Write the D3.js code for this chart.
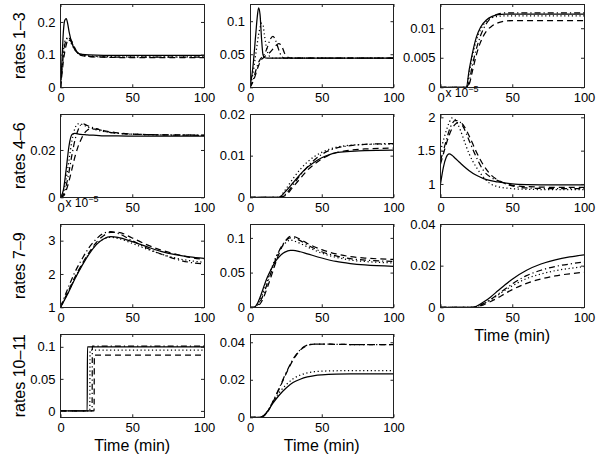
<!DOCTYPE html>
<html><head><meta charset="utf-8">
<script src="https://cdn.jsdelivr.net/npm/d3@7"></script>
<style>
body{margin:0;background:#fff}
svg{display:block}
text{font-family:"Liberation Sans",Arial,Helvetica,sans-serif;fill:#000}
</style>
</head><body>
<svg id="chart" width="600" height="457"></svg>
<script>
// ---------------- DATA ----------------
const xTicks = [0, 50, 100];
const xTickLabels = ["0", "50", "100"];
const rowLabels = ["rates 1–3", "rates 4–6", "rates 7–9", "rates 10–11"];
const xLabel = "Time (min)";

// Panel 1 (rates 1-3, first)
const p1Time    = [0, 1, 2, 3, 4, 5, 6, 8, 10, 12, 15, 20, 30, 50, 75, 100];
const p1Solid   = [0, 0.08, 0.17, 0.205, 0.21, 0.195, 0.17, 0.135, 0.115, 0.105, 0.101, 0.099, 0.098, 0.098, 0.098, 0.098];
const p1Dashed  = [0, 0.04, 0.08, 0.11, 0.13, 0.145, 0.15, 0.14, 0.12, 0.105, 0.097, 0.094, 0.092, 0.091, 0.091, 0.091];
const p1Dotted  = [0, 0.06, 0.11, 0.14, 0.15, 0.15, 0.145, 0.13, 0.115, 0.105, 0.099, 0.096, 0.094, 0.093, 0.093, 0.093];
const p1DashDot = [0, 0.05, 0.1, 0.13, 0.145, 0.15, 0.148, 0.135, 0.118, 0.106, 0.098, 0.095, 0.093, 0.092, 0.092, 0.092];

// Panel 2
const p2Time    = [0, 2, 4, 5, 6, 7, 8, 9, 10, 12, 14, 16, 18, 20, 22, 24, 27, 30, 50, 100];
const p2Solid   = [0, 0.03, 0.08, 0.105, 0.12, 0.11, 0.075, 0.05, 0.045, 0.044, 0.044, 0.044, 0.044, 0.044, 0.044, 0.044, 0.044, 0.044, 0.044, 0.044];
const p2Dashed  = [0, 0.008, 0.02, 0.027, 0.033, 0.038, 0.042, 0.044, 0.046, 0.049, 0.053, 0.058, 0.063, 0.066, 0.063, 0.052, 0.045, 0.044, 0.044, 0.044];
const p2Dotted  = [0, 0.02, 0.05, 0.065, 0.08, 0.09, 0.097, 0.095, 0.08, 0.055, 0.046, 0.044, 0.044, 0.044, 0.044, 0.044, 0.044, 0.044, 0.044, 0.044];
const p2DashDot = [0, 0.01, 0.025, 0.032, 0.038, 0.042, 0.045, 0.047, 0.05, 0.06, 0.072, 0.077, 0.07, 0.057, 0.047, 0.044, 0.044, 0.044, 0.044, 0.044];

// Panel 3
const p3Time    = [0, 18, 20, 22, 25, 28, 32, 36, 40, 45, 50, 100];
const p3Solid   = [0, 0, 0.003, 0.0055, 0.0085, 0.0102, 0.0114, 0.012, 0.0123, 0.0124, 0.0124, 0.0124];
const p3Dashed  = [0, 0, 0.0005, 0.0025, 0.0055, 0.0077, 0.0095, 0.0104, 0.0109, 0.0112, 0.0113, 0.0113];
const p3Dotted  = [0, 0, 0.0025, 0.005, 0.008, 0.0098, 0.0112, 0.0118, 0.012, 0.0121, 0.0121, 0.0121];
const p3DashDot = [0, 0, 0.001, 0.0035, 0.0065, 0.0088, 0.0108, 0.0119, 0.0124, 0.0126, 0.0126, 0.0126];

// Panel 4
const p4Time    = [0, 2, 4, 6, 8, 10, 12, 14, 16, 18, 20, 25, 30, 40, 60, 100];
const p4Solid   = [0, 0.003, 0.012, 0.022, 0.0265, 0.027, 0.0268, 0.0266, 0.0265, 0.0264, 0.0263, 0.0262, 0.026, 0.026, 0.0258, 0.0258];
const p4Dashed  = [0, 0.0005, 0.003, 0.007, 0.012, 0.017, 0.021, 0.024, 0.0265, 0.028, 0.0288, 0.0288, 0.0282, 0.0272, 0.0265, 0.0262];
const p4Dotted  = [0, 0.002, 0.008, 0.016, 0.024, 0.029, 0.031, 0.031, 0.0305, 0.03, 0.0295, 0.0285, 0.0278, 0.027, 0.0265, 0.0262];
const p4DashDot = [0, 0.001, 0.005, 0.011, 0.018, 0.024, 0.028, 0.0305, 0.031, 0.0305, 0.03, 0.029, 0.028, 0.027, 0.0265, 0.0263];

// Panel 5
const p5Time    = [0, 20, 25, 30, 35, 40, 45, 50, 55, 60, 70, 80, 100];
const p5Solid   = [0, 0, 0.0015, 0.0035, 0.0055, 0.0072, 0.0085, 0.0095, 0.0102, 0.0107, 0.011, 0.0112, 0.0113];
const p5Dashed  = [0, 0, 0.0005, 0.0025, 0.0045, 0.0065, 0.008, 0.0092, 0.0101, 0.0107, 0.0113, 0.0116, 0.0118];
const p5Dotted  = [0, 0, 0.002, 0.0045, 0.0067, 0.0085, 0.0098, 0.0108, 0.0115, 0.012, 0.0125, 0.0127, 0.0128];
const p5DashDot = [0, 0, 0.0008, 0.003, 0.0053, 0.0073, 0.009, 0.0103, 0.0112, 0.0118, 0.0124, 0.0127, 0.0129];

// Panel 6 (values in units of 1e-5)
const p6Time    = [0, 2, 4, 6, 8, 10, 12, 14, 16, 20, 25, 30, 35, 40, 50, 60, 80, 100];
const p6Solid   = [1.0, 1.25, 1.4, 1.45, 1.43, 1.39, 1.35, 1.31, 1.27, 1.2, 1.13, 1.08, 1.05, 1.03, 1.0, 0.99, 0.985, 0.985];
const p6Dashed  = [1.3, 1.45, 1.6, 1.73, 1.83, 1.89, 1.92, 1.92, 1.88, 1.72, 1.48, 1.28, 1.14, 1.06, 0.98, 0.96, 0.95, 0.95];
const p6Dotted  = [1.5, 1.65, 1.8, 1.92, 1.99, 1.97, 1.9, 1.8, 1.68, 1.45, 1.25, 1.1, 1.0, 0.96, 0.93, 0.92, 0.915, 0.915];
const p6DashDot = [1.35, 1.5, 1.65, 1.8, 1.9, 1.95, 1.95, 1.92, 1.85, 1.65, 1.4, 1.2, 1.1, 1.05, 0.97, 0.94, 0.93, 0.93];

// Panel 7 (values in units of 1e-5)
const p7Time    = [0, 5, 10, 15, 20, 25, 30, 35, 40, 50, 60, 70, 80, 90, 100];
const p7Solid   = [1, 1.4, 1.85, 2.25, 2.6, 2.88, 3.05, 3.12, 3.1, 2.97, 2.82, 2.68, 2.58, 2.51, 2.47];
const p7Dashed  = [1, 1.45, 1.9, 2.3, 2.65, 2.95, 3.15, 3.25, 3.25, 3.08, 2.88, 2.72, 2.6, 2.5, 2.44];
const p7Dotted  = [1, 1.42, 1.87, 2.27, 2.62, 2.9, 3.05, 3.1, 3.07, 2.92, 2.75, 2.6, 2.48, 2.4, 2.35];
const p7DashDot = [1, 1.55, 2.05, 2.45, 2.8, 3.05, 3.22, 3.27, 3.22, 3.0, 2.78, 2.6, 2.45, 2.35, 2.3];

// Panel 8
const p8Time    = [0, 3, 5, 8, 10, 12, 15, 18, 20, 23, 26, 28, 30, 35, 40, 50, 60, 70, 80, 100];
const p8Solid   = [0, 0, 0.005, 0.02, 0.032, 0.043, 0.056, 0.067, 0.072, 0.078, 0.081, 0.082, 0.082, 0.08, 0.077, 0.071, 0.066, 0.063, 0.061, 0.059];
const p8Dashed  = [0, 0, 0.001, 0.008, 0.017, 0.028, 0.046, 0.065, 0.076, 0.09, 0.099, 0.102, 0.102, 0.098, 0.092, 0.083, 0.077, 0.073, 0.071, 0.069];
const p8Dotted  = [0, 0, 0.003, 0.015, 0.026, 0.038, 0.056, 0.072, 0.08, 0.089, 0.095, 0.097, 0.096, 0.092, 0.087, 0.078, 0.072, 0.068, 0.066, 0.064];
const p8DashDot = [0, 0, 0.002, 0.012, 0.022, 0.034, 0.052, 0.07, 0.08, 0.091, 0.098, 0.1, 0.1, 0.096, 0.09, 0.08, 0.074, 0.07, 0.068, 0.066];

// Panel 9
const p9Time    = [0, 22, 25, 30, 35, 40, 45, 50, 60, 70, 80, 90, 100];
const p9Solid   = [0, 0, 0.0005, 0.0025, 0.005, 0.0079, 0.0108, 0.0135, 0.0178, 0.0208, 0.0228, 0.0242, 0.0252];
const p9Dashed  = [0, 0, 0.0002, 0.0012, 0.0028, 0.0046, 0.0066, 0.0085, 0.0115, 0.0136, 0.0151, 0.0161, 0.0168];
const p9Dotted  = [0, 0, 0.0003, 0.0018, 0.0036, 0.0058, 0.0082, 0.0103, 0.0138, 0.016, 0.0176, 0.0187, 0.0195];
const p9DashDot = [0, 0, 0.0003, 0.0018, 0.0038, 0.0062, 0.0088, 0.0112, 0.0152, 0.0178, 0.0196, 0.0208, 0.0217];

// Panel 10
const p10Time    = [0, 18.6, 18.8, 20.4, 20.6, 22.0, 22.2, 23.4, 23.6, 100];
const p10Solid   = [0, 0, 0.1, 0.1, 0.1, 0.1, 0.1, 0.1, 0.1, 0.1];
const p10Dashed  = [0, 0, 0, 0, 0, 0, 0, 0, 0.087, 0.087];
const p10Dotted  = [0, 0, 0, 0, 0.095, 0.095, 0.095, 0.095, 0.095, 0.095];
const p10DashDot = [0, 0, 0, 0, 0, 0, 0.101, 0.101, 0.101, 0.101];

// Panel 11
const p11Time    = [0, 7, 10, 13, 16, 20, 25, 30, 35, 40, 45, 50, 60, 70, 100];
const p11Solid   = [0, 0, 0.0012, 0.004, 0.0075, 0.0115, 0.0155, 0.0185, 0.0203, 0.0215, 0.0222, 0.0226, 0.023, 0.0231, 0.0231];
const p11Dashed  = [0, 0, 0.001, 0.0038, 0.0082, 0.0145, 0.023, 0.0305, 0.0358, 0.0383, 0.039, 0.039, 0.0389, 0.0388, 0.0388];
const p11Dotted  = [0, 0, 0.0012, 0.0042, 0.0082, 0.0128, 0.0172, 0.0205, 0.0225, 0.0237, 0.0243, 0.0246, 0.0248, 0.0249, 0.0249];
const p11DashDot = [0, 0, 0.001, 0.004, 0.0085, 0.015, 0.0235, 0.031, 0.036, 0.0385, 0.039, 0.039, 0.0389, 0.0388, 0.0388];

// y tick values / labels per panel
const p1YTicks = [0, 0.1, 0.2],      p1YLabels = ["0", "0.1", "0.2"];
const p2YTicks = [0, 0.05, 0.1],     p2YLabels = ["0", "0.05", "0.1"];
const p3YTicks = [0, 0.005, 0.01],   p3YLabels = ["0", "0.005", "0.01"];
const p4YTicks = [0, 0.02],          p4YLabels = ["0", "0.02"];
const p5YTicks = [0, 0.01, 0.02],    p5YLabels = ["0", "0.01", "0.02"];
const p6YTicks = [1, 1.5, 2],        p6YLabels = ["1", "1.5", "2"];
const p7YTicks = [1, 2, 3],          p7YLabels = ["1", "2", "3"];
const p8YTicks = [0, 0.05, 0.1],     p8YLabels = ["0", "0.05", "0.1"];
const p9YTicks = [0, 0.02, 0.04],    p9YLabels = ["0", "0.02", "0.04"];
const p10YTicks = [0, 0.05, 0.1],    p10YLabels = ["0", "0.05", "0.1"];
const p11YTicks = [0, 0.02, 0.04],   p11YLabels = ["0", "0.02", "0.04"];

// ---------------- LAYOUT ----------------
const colX = [60.5, 250, 440.5];
const rowY = [4, 114, 224, 334];
const pw = 143.5, ph = 83.3;

const panels = [
  {r:0,c:0,t:p1Time,s:[p1Solid,p1Dashed,p1Dotted,p1DashDot],yd:[0,0.255],yt:p1YTicks,yl:p1YLabels},
  {r:0,c:1,t:p2Time,s:[p2Solid,p2Dashed,p2Dotted,p2DashDot],yd:[0,0.126],yt:p2YTicks,yl:p2YLabels},
  {r:0,c:2,t:p3Time,s:[p3Solid,p3Dashed,p3Dotted,p3DashDot],yd:[0,0.0141],yt:p3YTicks,yl:p3YLabels},
  {r:1,c:0,t:p4Time,s:[p4Solid,p4Dashed,p4Dotted,p4DashDot],yd:[0,0.0352],yt:p4YTicks,yl:p4YLabels},
  {r:1,c:1,t:p5Time,s:[p5Solid,p5Dashed,p5Dotted,p5DashDot],yd:[0,0.02],yt:p5YTicks,yl:p5YLabels},
  {r:1,c:2,t:p6Time,s:[p6Solid,p6Dashed,p6Dotted,p6DashDot],yd:[0.8,2.05],yt:p6YTicks,yl:p6YLabels,exp:true},
  {r:2,c:0,t:p7Time,s:[p7Solid,p7Dashed,p7Dotted,p7DashDot],yd:[1,3.5],yt:p7YTicks,yl:p7YLabels,exp:true},
  {r:2,c:1,t:p8Time,s:[p8Solid,p8Dashed,p8Dotted,p8DashDot],yd:[0,0.12],yt:p8YTicks,yl:p8YLabels},
  {r:2,c:2,t:p9Time,s:[p9Solid,p9Dashed,p9Dotted,p9DashDot],yd:[0,0.04],yt:p9YTicks,yl:p9YLabels,xl:true},
  {r:3,c:0,t:p10Time,s:[p10Solid,p10Dashed,p10Dotted,p10DashDot],yd:[-0.01,0.12],yt:p10YTicks,yl:p10YLabels,xl:true},
  {r:3,c:1,t:p11Time,s:[p11Solid,p11Dashed,p11Dotted,p11DashDot],yd:[0,0.0444],yt:p11YTicks,yl:p11YLabels,xl:true}
];

// styles: solid, dashed, dotted, dash-dot
const dashArr = [null, "6,4", "1.2,2.6", "6,3,1.2,3"];
const drawOrder = [1, 2, 3, 0];

const svg = d3.select("#chart");
const tickLen = 3;

panels.forEach((p, i) => {
  const x0 = colX[p.c], y0 = rowY[p.r];
  const g = svg.append("g").attr("transform", `translate(${x0},${y0})`);
  const x = d3.scaleLinear().domain([0, 100]).range([0, pw]);
  const y = d3.scaleLinear().domain(p.yd).range([ph, 0]);

  g.append("clipPath").attr("id", "clip" + i)
    .append("rect").attr("width", pw).attr("height", ph);

  const line = d3.line().curve(d3.curveMonotoneX)
    .x((d) => x(d[0])).y((d) => y(d[1]));

  const lg = g.append("g").attr("clip-path", `url(#clip${i})`);
  drawOrder.forEach(k => {
    const pts = p.t.map((tv, j) => [tv, p.s[k][j]]);
    lg.append("path").datum(pts)
      .attr("d", line)
      .attr("fill", "none")
      .attr("stroke", "#000")
      .attr("stroke-width", 1.25)
      .attr("stroke-dasharray", dashArr[k]);
  });

  // axes (inward ticks, MATLAB style)
  const ax = g.append("g").attr("transform", `translate(0,${ph})`)
    .call(d3.axisBottom(x).tickValues(xTicks).tickFormat((d, j) => xTickLabels[j]).tickSizeInner(-tickLen).tickSizeOuter(0).tickPadding(5));
  const axT = g.append("g")
    .call(d3.axisTop(x).tickValues(xTicks).tickFormat("").tickSizeInner(-tickLen).tickSizeOuter(0));
  const ay = g.append("g")
    .call(d3.axisLeft(y).tickValues(p.yt).tickFormat((d, j) => p.yl[j]).tickSizeInner(-tickLen).tickSizeOuter(0).tickPadding(5));
  const ayR = g.append("g").attr("transform", `translate(${pw},0)`)
    .call(d3.axisRight(y).tickValues(p.yt).tickFormat("").tickSizeInner(-tickLen).tickSizeOuter(0));
  [ax, axT, ay, ayR].forEach(a => {
    a.select(".domain").remove();
    a.selectAll("line").attr("stroke", "#222");
    a.selectAll("text").attr("font-size", 13).attr("font-family", '"Liberation Sans",Arial,sans-serif').attr("fill", "#000");
  });

  g.append("rect").attr("width", pw).attr("height", ph)
    .attr("fill", "none").attr("stroke", "#222").attr("stroke-width", 1)
    .attr("shape-rendering", "crispEdges");

  if (p.exp) {
    const t = g.append("text").attr("x", 5).attr("y", -17).attr("font-size", 12);
    t.append("tspan").text("x 10");
    t.append("tspan").attr("font-size", 9).attr("dy", -5).text("−5");
  }
  if (p.xl) {
    g.append("text").attr("x", pw / 2).attr("y", ph + 34)
      .attr("text-anchor", "middle").attr("font-size", 16).text(xLabel);
  }
});

rowLabels.forEach((lab, r) => {
  svg.append("text")
    .attr("transform", `translate(25,${rowY[r] + ph / 2}) rotate(-90)`)
    .attr("text-anchor", "middle")
    .attr("font-size", 16)
    .text(lab);
});
</script>
</body></html>
